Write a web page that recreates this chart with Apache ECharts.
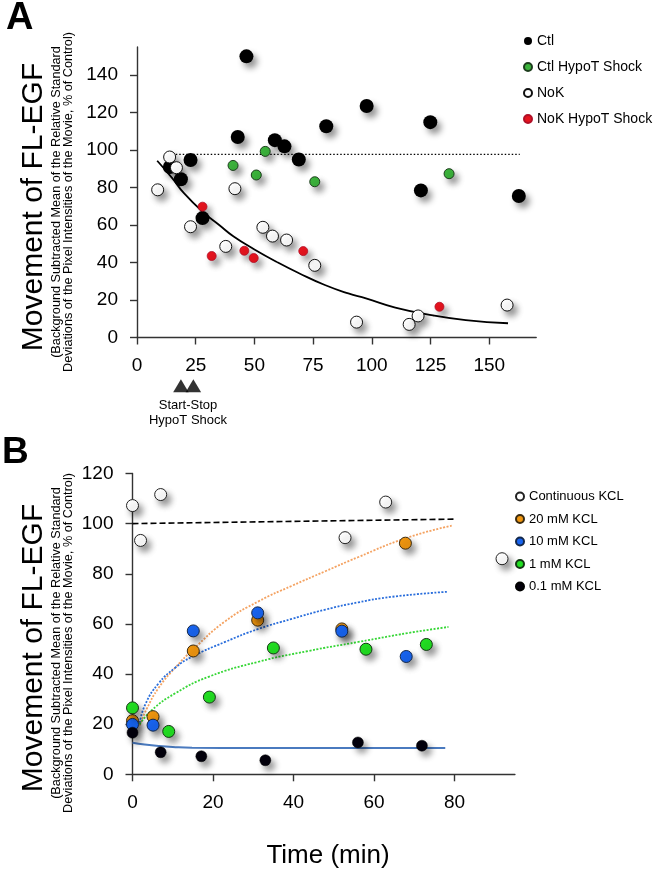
<!DOCTYPE html>
<html>
<head>
<meta charset="utf-8">
<script src="https://cdn.jsdelivr.net/npm/echarts@6/dist/echarts.min.js"></script>
<style>
html,body{margin:0;padding:0;background:#fff;}
#chart{width:657px;height:873px;}
</style>
</head>
<body>
<div id="chart"></div>
<script>
// ---------- Panel A data ----------
const ctl = [[14,91],[18.7,84.4],[22.8,94.7],[27.9,63.7],[42.9,107],[46.6,150],[58.7,105.3],[62.8,102],[68.9,95],[80.6,112.7],[97.8,123.5],[120.9,78.5],[124.9,114.9],[162.6,75.5]];
const ctlHypo = [[40.9,91.8],[50.8,86.7],[54.6,99.3],[75.7,83.1],[132.9,87.4]];
const nok = [[8.8,78.8],[13.9,96.3],[16.8,90.6],[22.8,59.1],[37.8,48.6],[41.7,79.4],[53.6,58.8],[57.7,54.1],[63.7,52],[75.7,38.5],[93.5,8.2],[115.9,7],[119.7,11.5],[157.6,17.3]];
const nokHypo = [[27.9,69.8],[31.8,43.5],[45.7,46.3],[49.7,42.4],[70.8,46.1],[128.8,16.4]];
const fitA = [[8.6,94.3],[15,85],[20,77],[28,67],[35,60],[41,54],[50,47],[60,40],[69,34.3],[80,28],[90,23.5],[97.5,20.9],[110,16],[126,11.8],[140,9.3],[158,7.6]];
const refA = [[15,97.7],[163,97.7]];
const shockMarks = [[18.7,-25.8],[24,-25.8]];
const ticksAx = [0,25,50,75,100,125,150];
const ticksAy = [0,20,40,60,80,100,120,140];

// ---------- Panel B data ----------
const contKCL = [[0,107.2],[2,93.3],[7,111.6],[52.8,94.4],[62.9,108.6],[91.8,86]];
const kcl20 = [[0,21.4],[5.1,23],[15.1,49.2],[31.1,61.5],[52,58],[67.8,92.2]];
const kcl10 = [[0,19.9],[5.1,19.6],[15.1,57.2],[31.1,64.4],[52,57.1],[68,47]];
const kcl1 = [[0,26.5],[9,17.1],[19.1,30.8],[35,50.4],[58,49.9],[73,51.8]];
const kcl01 = [[0,16.6],[7,8.8],[17.1,7.2],[33,5.6],[56,12.7],[71.9,11.4]];
const fitCont = [[0,100],[40,100.9],[80,101.8]];
const fit20 = [[1.8,19.5],[3.5,26],[6.5,34.5],[10.6,42.5],[15.2,50],[23,61],[31.3,69],[39.6,75.2],[47.9,81],[56,86.6],[67.9,94.2],[79.3,99.2]];
const fit10 = [[1.8,20.5],[3.2,28],[6.5,36.3],[10.6,42.5],[14.8,46.9],[23,52.8],[31.3,58],[39.6,62],[47.9,65.7],[56.1,68.6],[64.4,70.8],[78.1,72.8]];
const fit1 = [[1.8,20],[4.8,25.6],[10.6,32.3],[18.9,38.9],[31.3,44.9],[43.7,49.2],[56.1,52.8],[68.6,56.4],[78.5,58.8]];
const fit01 = [[0,12.6],[3,11.9],[6.5,11.3],[10,10.9],[14.8,10.6],[30,10.5],[50,10.5],[77.7,10.5]];
const ticksBx = [0,20,40,60,80];
const ticksBy = [0,20,40,60,80,100,120];

const FONT = '"Liberation Sans", Arial, Helvetica, sans-serif';
const AX = '#333';
const shadow = {shadowBlur:6, shadowOffsetX:4, shadowOffsetY:5, shadowColor:'rgba(0,0,0,0.42)'};

function axisCommon(ticks){
  return {
    type:'value',
    axisLine:{show:true,lineStyle:{color:AX,width:1.4}},
    axisTick:{show:true,inside:false,length:7,lineStyle:{color:AX,width:1.4},customValues:ticks},
    axisLabel:{color:'#000',fontSize:19,fontFamily:FONT,margin:19,customValues:ticks},
    splitLine:{show:false}
  };
}
function pts(name,data,xi,color,size,border,bw){
  return {name:name,type:'scatter',xAxisIndex:xi,yAxisIndex:xi,data:data,symbol:'circle',symbolSize:size,z:3,
    itemStyle:Object.assign({color:color,borderColor:border,borderWidth:bw,opacity:1},shadow),
    emphasis:{disabled:true}};
}
function line(data,xi,color,width,type,smooth){
  return {type:'line',xAxisIndex:xi,yAxisIndex:xi,data:data,showSymbol:false,smooth:smooth,z:2,silent:true,
    lineStyle:{color:color,width:width,type:type}};
}

const chart = echarts.init(document.getElementById('chart'),null,{renderer:'canvas'});
const option = {
  animation:false,
  backgroundColor:'#fff',
  textStyle:{fontFamily:FONT},
  grid:[
    {left:137,top:47,width:399.2,height:290.5},
    {left:132.5,top:473.5,width:382.4,height:300.8}
  ],
  xAxis:[
    Object.assign(axisCommon(ticksAx),{gridIndex:0,min:0,max:170}),
    Object.assign(axisCommon(ticksBx),{gridIndex:1,min:0,max:95})
  ],
  yAxis:[
    Object.assign(axisCommon(ticksAy),{gridIndex:0,min:0,max:155}),
    Object.assign(axisCommon(ticksBy),{gridIndex:1,min:0,max:120})
  ],
  legend:[
    {data:['Ctl','Ctl HypoT Shock','NoK','NoK HypoT Shock'],orient:'vertical',left:518,top:28,padding:5,
     itemWidth:8,itemHeight:8,itemGap:10,icon:'circle',
     textStyle:{color:'#000',fontSize:14,fontFamily:FONT,lineHeight:16},
     itemStyle:{shadowBlur:0,shadowOffsetX:0,shadowOffsetY:0,shadowColor:'rgba(0,0,0,0)'}},
    {data:['Continuous KCL','20 mM KCL','10 mM KCL','1 mM KCL','0.1 mM KCL'],orient:'vertical',left:510,top:484,padding:5,
     itemWidth:8,itemHeight:8,itemGap:7.5,icon:'circle',
     textStyle:{color:'#000',fontSize:13,fontFamily:FONT,lineHeight:15},
     itemStyle:{shadowBlur:0,shadowOffsetX:0,shadowOffsetY:0,shadowColor:'rgba(0,0,0,0)'}}
  ],
  series:[
    // Panel A lines
    line(refA,0,'#000',1.3,[1.5,2],false),
    line(fitA,0,'#000',1.8,'solid',true),
    // Panel A points
    pts('Ctl',ctl,0,'#000',14,'#000',0),
    pts('Ctl HypoT Shock',ctlHypo,0,'#3cb43c',10,'#1d3d1d',1),
    pts('NoK',nok,0,'#fff',12,'#111',1),
    pts('NoK HypoT Shock',nokHypo,0,'#e6141e',9,'#b01028',0.8),
    {type:'scatter',xAxisIndex:0,yAxisIndex:0,data:shockMarks,symbol:'triangle',symbolSize:[15.5,13],clip:false,silent:true,
     itemStyle:{color:'#000'}},
    // Panel B lines
    line(fitCont,1,'#000',1.6,[6,3],false),
    line(fit20,1,'#f4a261',1.8,[2,1.5],true),
    line(fit10,1,'#2a6edc',1.8,[2,1.5],true),
    line(fit1,1,'#36d636',1.8,[2,1.5],true),
    line(fit01,1,'#4a7abf',2,'solid',true),
    // Panel B points
    pts('Continuous KCL',contKCL,1,'#fff',12,'#222',1),
    pts('20 mM KCL',kcl20,1,'#f0960f',12,'#3a2a10',1),
    pts('10 mM KCL',kcl10,1,'#1864f0',12,'#14284a',1),
    pts('1 mM KCL',kcl1,1,'#22e022',12,'#143814',1),
    pts('0.1 mM KCL',kcl01,1,'#03000c',11,'#000',0.5)
  ],
  graphic:[
    {type:'text',x:6,y:19,style:{text:'A',font:'bold 38px '+FONT,fill:'#000',textAlign:'left',textVerticalAlign:'middle'}},
    {type:'text',x:2,y:453,style:{text:'B',font:'bold 37px '+FONT,fill:'#000',textAlign:'left',textVerticalAlign:'middle'}},
    // Panel A y title
    {type:'text',x:34,y:207,rotation:Math.PI/2,style:{text:'Movement of FL-EGF',font:'30px '+FONT,fill:'#000',textAlign:'center',textVerticalAlign:'middle'}},
    {type:'text',x:56,y:202,rotation:Math.PI/2,style:{text:'(Background Subtracted Mean of the Relative Standard',font:'12.7px '+FONT,fill:'#000',textAlign:'center',textVerticalAlign:'middle'}},
    {type:'text',x:68,y:202,rotation:Math.PI/2,style:{text:'Deviations of the Pixel Intensities of the Movie, % of Control)',font:'12.7px '+FONT,fill:'#000',textAlign:'center',textVerticalAlign:'middle'}},
    // Panel B y title
    {type:'text',x:34,y:648,rotation:Math.PI/2,style:{text:'Movement of FL-EGF',font:'30px '+FONT,fill:'#000',textAlign:'center',textVerticalAlign:'middle'}},
    {type:'text',x:56,y:643,rotation:Math.PI/2,style:{text:'(Background Subtracted Mean of the Relative Standard',font:'12.7px '+FONT,fill:'#000',textAlign:'center',textVerticalAlign:'middle'}},
    {type:'text',x:68,y:643,rotation:Math.PI/2,style:{text:'Deviations of the Pixel Intensities of the Movie, % of Control)',font:'12.7px '+FONT,fill:'#000',textAlign:'center',textVerticalAlign:'middle'}},
    // Shock annotation
    {type:'text',x:188,y:405,style:{text:'Start-Stop',font:'13px '+FONT,fill:'#000',textAlign:'center',textVerticalAlign:'middle'}},
    {type:'text',x:188,y:420,style:{text:'HypoT Shock',font:'13px '+FONT,fill:'#000',textAlign:'center',textVerticalAlign:'middle'}},
    // X title B
    {type:'text',x:328,y:856,style:{text:'Time (min)',font:'26px '+FONT,fill:'#000',textAlign:'center',textVerticalAlign:'middle'}}
  ]
};
chart.setOption(option);
</script>
</body>
</html>
